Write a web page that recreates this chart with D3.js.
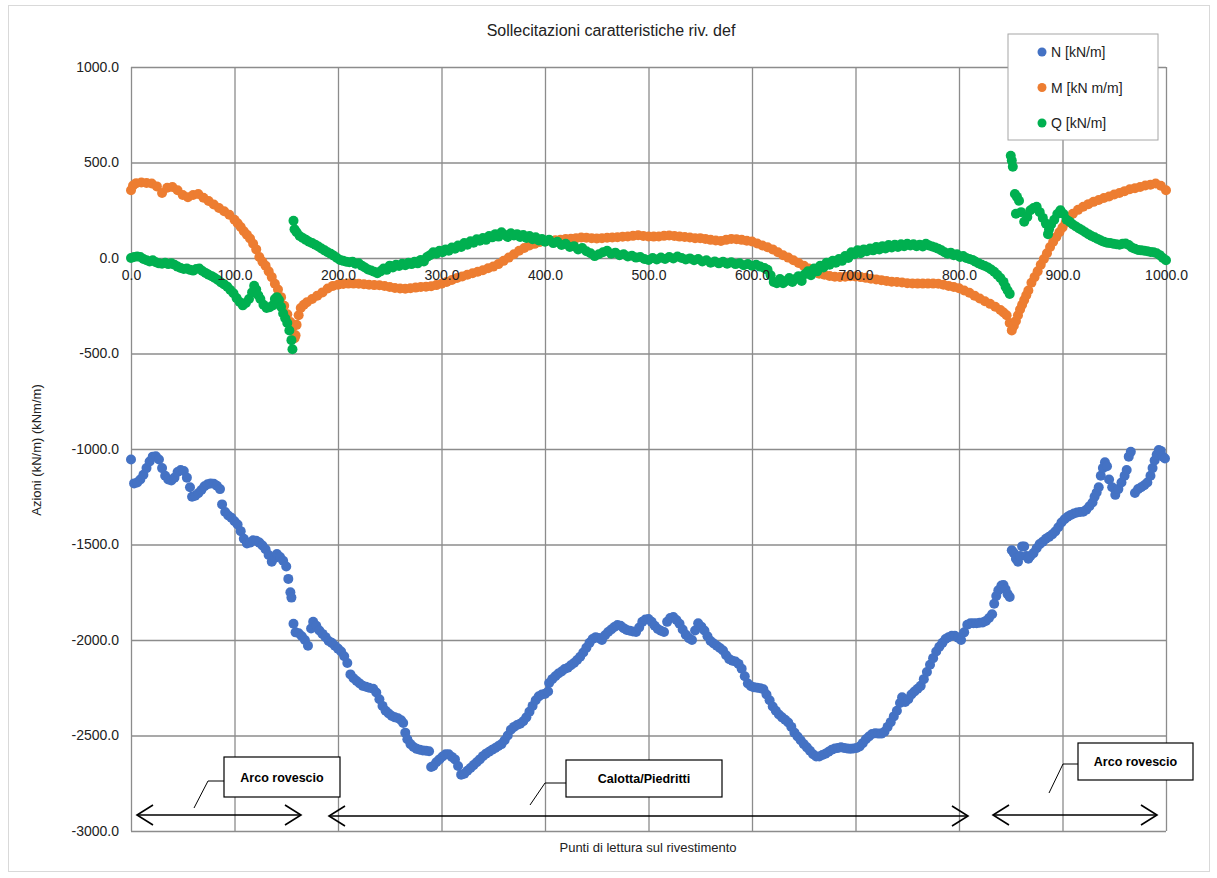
<!DOCTYPE html>
<html>
<head>
<meta charset="utf-8">
<script src="https://cdn.jsdelivr.net/npm/d3@7"></script>
<style>
  body { margin: 0; background: #fff; }
  svg { font-family: "Liberation Sans", Arial, sans-serif; }
</style>
</head>
<body>
<div id="chart"></div>
<script>
// tick values
const xTicks = [0, 100, 200, 300, 400, 500, 600, 700, 800, 900, 1000];
const yTicks = [-3000, -2500, -2000, -1500, -1000, -500, 0, 500, 1000];

const seriesNames = ["N [kN/m]", "M [kN m/m]", "Q [kN/m]"];
const seriesColors = ["#4472C4", "#ED7D31", "#00B050"];

// N [kN/m]  -> [punto, valore]
const nPoints = [[0,-1055],[3,-1180],[6,-1175],[9,-1160],[12,-1135],[15,-1100],[18,-1065],[21,-1040],[24,-1038],[27,-1055],[30,-1100],[33,-1140],[36,-1160],[39,-1165],[42,-1150],[45,-1120],[48,-1110],[51,-1115],[54,-1150],[57,-1200],[59,-1250],[62,-1245],[65,-1232],[68,-1215],[71,-1195],[74,-1185],[77,-1180],[80,-1182],[83,-1192],[86,-1210],[88,-1290],[91,-1330],[94,-1348],[97,-1360],[100,-1378],[103,-1395],[106,-1430],[109,-1470],[112,-1495],[115,-1490],[118,-1478],[121,-1480],[124,-1490],[127,-1505],[130,-1525],[133,-1555],[136,-1590],[139,-1570],[141,-1550],[144,-1565],[147,-1585],[150,-1615],[152,-1680],[154,-1750],[155,-1778],[157,-1915],[159,-1960],[162,-1965],[165,-1980],[168,-2000],[171,-2030],[174,-1940],[176,-1905],[179,-1925],[182,-1950],[185,-1968],[188,-1985],[191,-2005],[194,-2015],[197,-2030],[200,-2045],[203,-2060],[206,-2085],[209,-2120],[212,-2180],[215,-2200],[218,-2215],[221,-2228],[224,-2240],[227,-2245],[230,-2250],[234,-2255],
[237,-2275],[240,-2310],[243,-2345],[246,-2370],[249,-2385],[252,-2398],[255,-2405],[258,-2410],[261,-2420],[263,-2435],[265,-2485],[267,-2520],[270,-2545],[273,-2560],[276,-2570],[279,-2575],[282,-2578],[285,-2580],[288,-2582],[290,-2665],[292,-2660],[295,-2640],[298,-2625],[301,-2610],[304,-2598],[307,-2598],[310,-2612],[313,-2625],[316,-2660],[319,-2705],[322,-2700],[325,-2685],[328,-2670],[331,-2655],[334,-2640],[337,-2625],[340,-2608],[343,-2595],[346,-2585],[349,-2575],[352,-2565],[355,-2555],[358,-2545],[361,-2525],[364,-2500],[367,-2470],[370,-2455],[373,-2445],[376,-2438],[379,-2425],[382,-2405],[385,-2375],[388,-2345],[391,-2315],[394,-2295],[397,-2285],[400,-2282],[403,-2270],[404,-2225],[407,-2205],[410,-2190],[413,-2175],[416,-2165],[419,-2152],[422,-2145],[425,-2132],[428,-2120],[431,-2105],[434,-2088],[437,-2065],[440,-2040],[443,-2015],[446,-1995],[449,-1985],[452,-1990],[455,-2000],[458,-1975],[461,-1958],[464,-1945],[467,-1932],[470,-1922],[473,-1925],[476,-1938],[479,-1948],[482,-1952],[485,-1955],[488,-1958],[491,-1935],[494,-1905],[497,-1893],[500,-1890],
[503,-1905],[506,-1925],[509,-1942],[512,-1952],[515,-1958],[518,-1905],[521,-1885],[524,-1880],[527,-1895],[530,-1915],[533,-1945],[536,-1972],[539,-1990],[542,-2000],[545,-1950],[548,-1912],[551,-1930],[554,-1950],[557,-1980],[560,-2005],[563,-2018],[566,-2030],[569,-2042],[572,-2055],[575,-2080],[578,-2100],[581,-2108],[584,-2113],[587,-2125],[590,-2150],[593,-2190],[596,-2228],[599,-2242],[602,-2248],[605,-2250],[608,-2252],[611,-2258],[614,-2285],[617,-2315],[620,-2348],[623,-2370],[626,-2390],[629,-2405],[632,-2418],[635,-2432],[638,-2455],[641,-2485],[644,-2505],[647,-2525],[650,-2545],[653,-2562],[656,-2580],[659,-2598],[662,-2610],[665,-2610],[668,-2602],[671,-2595],[674,-2585],[677,-2575],[680,-2568],[683,-2565],[686,-2562],[689,-2565],[692,-2568],[695,-2570],[698,-2568],[701,-2565],[704,-2558],[707,-2540],[710,-2520],[713,-2505],[716,-2492],[719,-2488],[722,-2490],[725,-2490],[728,-2480],[731,-2455],[734,-2430],[737,-2400],[740,-2370],[743,-2330],[745,-2300],[748,-2325],[751,-2310],[754,-2285],
[757,-2270],[760,-2255],[763,-2240],[766,-2205],[769,-2168],[772,-2130],[775,-2095],[778,-2060],[781,-2035],[784,-2015],[787,-1995],[790,-1985],[793,-1978],[796,-1978],[799,-1988],[802,-2000],[805,-1960],[808,-1920],[811,-1912],[814,-1912],[817,-1912],[820,-1910],[823,-1908],[826,-1900],[829,-1885],[832,-1865],[834,-1810],[836,-1770],[838,-1740],[841,-1715],[843,-1712],[845,-1735],[847,-1760],[849,-1775],[851,-1530],[853,-1545],[855,-1575],[857,-1590],[859,-1560],[861,-1510],[863,-1510],[865,-1560],[867,-1575],[869,-1560],[872,-1545],[875,-1520],[878,-1498],[881,-1485],[884,-1470],[887,-1460],[890,-1448],[893,-1432],[896,-1410],[899,-1385],[902,-1368],[905,-1355],[908,-1345],[911,-1338],[914,-1332],[917,-1330],[920,-1328],[923,-1318],[926,-1300],[929,-1280],[931,-1250],[933,-1228],[935,-1200],[937,-1140],[939,-1100],[941,-1070],[943,-1090],[945,-1160],[948,-1200],[951,-1240],[954,-1210],[957,-1175],[960,-1140],[962,-1110],[964,-1040],[966,-1015],[970,-1230],[973,-1210],[976,-1200],[979,-1190],[982,-1175],[985,-1140],[987,-1100],[989,-1060],[991,-1030],[993,-1005],[995,-1010],[997,-1040],[999,-1050]];

// M [kN m/m]
const mPoints = [[0,355],[2,380],[5,392],[10,395],[15,393],[20,390],[25,375],[30,340],[35,368],[40,372],[45,355],[50,330],[55,318],[60,330],[65,335],[70,315],[75,298],[80,280],[85,262],[90,245],[95,226],[100,200],[103,182],[106,162],[109,140],[112,122],[115,102],[118,75],[121,45],[124,5],[127,-20],[130,-40],[133,-70],[136,-100],[139,-135],[142,-165],[145,-205],[148,-250],[151,-295],[154,-335],[156,-365],[158,-420],[159,-405],[160,-350],[162,-300],[164,-262],[167,-245],[170,-232],[175,-215],[180,-197],[185,-180],[190,-160],[195,-146],[200,-140],[205,-136],[210,-134],[215,-134],[220,-135],[225,-137],[230,-140],[235,-142],[240,-143],[245,-147],[250,-152],[255,-157],[260,-160],[265,-161],[270,-158],[275,-155],[280,-152],[285,-150],[290,-148],[295,-142],[300,-135],[305,-125],[310,-115],[315,-105],[320,-97],[325,-88],[330,-80],[335,-72],[340,-64],[345,-54],[350,-45],[355,-32],[360,-15],[365,2],[370,20],[375,38],[380,52],[385,65],[390,74],[395,84],[400,88],[405,90],[410,93],[415,96],[420,99],[425,101],[430,104],[435,107],[440,106],[445,104],[450,102],[455,104],[460,106],[465,107],[470,109],[475,111],[480,113],[485,116],[490,119],[495,115],[500,113],[505,112],[510,113],[515,116],[520,118],[525,115],[530,112],[535,110],[540,107],[545,104],[550,104],[555,100],[560,95],[565,92],[570,89],[575,95],[580,100],[585,98],[590,95],[595,90],[600,86],[605,76],[610,65],[615,56],[620,45],[625,30],[630,14],[635,2],[640,-12],[645,-26],[650,-40],[655,-55],[660,-70],[665,-82],[670,-88],[675,-94],[680,-98],[685,-99],[690,-98],[695,-96],[700,-97],[705,-100],[710,-104],[715,-108],[720,-112],[725,-116],[730,-120],[735,-124],[740,-126],[745,-128],[750,-132],[755,-133],[760,-134],[765,-134],[770,-134],[775,-134],[780,-135],[785,-140],[790,-146],[795,-152],[800,-158],[805,-170],[810,-182],[815,-197],[820,-212],[825,-226],[830,-240],[835,-255],[840,-272],[843,-285],[846,-300],[849,-340],[851,-379],[853,-355],[855,-330],[857,-300],[859,-270],[861,-245],[863,-220],[865,-195],[867,-170],[870,-130],[873,-100],[876,-70],[879,-35],[882,-5],[885,25],[888,58],[891,85],[894,110],[897,135],[900,160],[903,185],[906,210],[910,232],[915,252],[920,268],[925,282],[930,294],[935,304],[940,314],[945,322],[950,332],[955,340],[960,350],[965,360],[970,365],[975,372],[980,380],[985,384],[990,390],[995,378],[1000,355]];

// Q [kN/m]
const qPoints = [[0,0],[3,5],[6,8],[9,5],[12,-5],[15,-12],[18,-18],[21,-12],[24,-22],[27,-28],[30,-30],[33,-25],[36,-32],[39,-28],[42,-35],[45,-45],[48,-52],[51,-58],[54,-55],[57,-62],[60,-66],[63,-58],[66,-55],[69,-68],[72,-78],[75,-88],[78,-95],[81,-105],[84,-115],[87,-128],[90,-138],[93,-150],[96,-168],[99,-185],[102,-210],[105,-230],[108,-248],[111,-235],[114,-215],[117,-180],[119,-145],[121,-165],[123,-195],[125,-215],[128,-245],[131,-262],[134,-258],[137,-248],[139,-215],[141,-205],[143,-220],[145,-255],[147,-290],[149,-315],[151,-340],[153,-380],[155,-430],[156,-478],
[157,195],[158,150],[160,135],[163,115],[166,105],[169,95],[172,85],[175,78],[178,70],[181,60],[184,50],[187,40],[190,30],[193,22],[196,12],[199,0],[202,-10],[205,-15],[208,-20],[211,-22],[214,-20],[217,-30],[220,-28],[223,-40],[226,-50],[229,-60],[232,-65],[235,-72],[238,-80],[241,-70],[244,-55],[247,-62],[250,-40],[253,-50],[256,-35],[259,-42],[262,-30],[265,-38],[268,-25],[271,-32],[274,-20],[277,-28],[280,-10],[283,-18],[286,5],[289,15],[292,30],[295,22],[298,38],[301,30],[304,45],[307,38],[310,55],[313,48],[316,65],[319,58],[322,78],[325,70],[328,88],[331,80],[334,98],[337,90],[340,105],[343,95],[346,115],[349,108],[352,125],[355,112],[358,135],[361,120],[364,110],[367,130],[370,118],[373,125],[376,110],[379,120],[382,105],[385,115],[388,98],[391,108],[394,92],[397,100],[400,85],[404,95],[408,78],[412,85],[416,68],[420,75],[424,58],[428,62],[432,45],[436,52],[440,35],[444,25],[448,10],[452,20],[456,30],[460,38],[464,22],[468,28],[472,15],[476,20],[480,8],[484,12],[488,2],[492,5],[496,-5],[500,-10],
[504,0],[508,-8],[512,2],[516,-5],[520,5],[524,-2],[528,8],[532,0],[536,-8],[540,-2],[544,-12],[548,-5],[552,-18],[556,-12],[560,-25],[564,-18],[568,-28],[572,-20],[576,-30],[580,-22],[584,-32],[588,-28],[592,-38],[596,-32],[600,-40],[604,-35],[608,-45],[612,-52],[615,-62],[618,-90],[621,-125],[624,-132],[627,-110],[630,-132],[633,-120],[636,-105],[639,-125],[642,-110],[645,-95],[648,-120],[651,-85],[654,-70],[657,-90],[660,-55],[663,-70],[666,-40],[669,-50],[672,-25],[675,-35],[678,-15],[681,-25],[684,-5],[687,-15],[690,10],[693,0],[696,30],[699,20],[702,40],[705,25],[708,45],[711,35],[714,50],[717,40],[720,58],[723,45],[726,62],[729,50],[732,68],[735,55],[738,70],[741,58],[744,72],[747,62],[750,75],
[753,65],[756,72],[759,62],[762,70],[765,60],[768,75],[771,65],[774,60],[777,55],[780,48],[783,40],[786,30],[789,22],[792,28],[795,15],[798,20],[801,5],[804,10],[807,0],[810,-5],[813,-10],[816,-20],[819,-28],[822,-35],[825,-42],[828,-50],[831,-60],[834,-72],[837,-88],[840,-105],[843,-125],[845,-150],[847,-170],[849,-188],
[850,535],[851,510],[852,478],[854,335],[856,320],[858,300],[855,232],[860,240],[863,190],[866,215],[869,250],[872,262],[875,268],[878,240],[881,210],[884,180],[887,150],[886,125],[889,175],[892,200],[895,230],[898,250],[901,230],[904,200],[907,190],[910,175],[913,165],[916,155],[919,145],[922,135],[925,125],[928,115],[931,108],[934,100],[937,92],[940,85],[943,80],[946,78],[949,75],[952,72],[955,70],[958,74],[961,76],[964,68],[967,55],[970,48],[973,42],[976,40],[979,38],[982,35],[985,32],[988,30],[991,25],[994,15],[997,0],[1000,-12]];

const allSeries = [nPoints, mPoints, qPoints];

const W = 1217, H = 878;
const plot = { left: 131, right: 1166, top: 67, bottom: 831 };

const svg = d3.select("#chart").append("svg")
  .attr("width", W).attr("height", H);

svg.append("rect").attr("x", 0).attr("y", 0).attr("width", W).attr("height", H).attr("fill", "#fff");
svg.append("rect").attr("x", 8.5).attr("y", 5.5).attr("width", 1201).attr("height", 866)
  .attr("fill", "none").attr("stroke", "#d9d9d9");

const x = d3.scaleLinear().domain([0, 1000]).range([plot.left, plot.right]);
const y = d3.scaleLinear().domain([-3000, 1000]).range([plot.bottom, plot.top]);
const fmt = v => v.toFixed(1);   // trattino normale, come in Excel

// griglia orizzontale + etichette asse y
const gy = svg.append("g")
  .attr("transform", `translate(${plot.left},0)`)
  .call(d3.axisLeft(y).tickValues(yTicks).tickSize(-(plot.right - plot.left)).tickPadding(12).tickFormat(fmt));
gy.select(".domain").remove();
gy.selectAll("line").attr("stroke", "#8c8c8c").attr("stroke-width", 1.3);
gy.selectAll("text").attr("fill", "#222").style("font-size", "14px");

// griglia verticale
const gx = svg.append("g")
  .attr("transform", `translate(0,${plot.bottom})`)
  .call(d3.axisBottom(x).tickValues(xTicks).tickSize(-(plot.bottom - plot.top)).tickFormat(""));
gx.select(".domain").remove();
gx.selectAll("line").attr("stroke", "#8c8c8c").attr("stroke-width", 1.3);

// punti
allSeries.forEach((pts, i) => {
  svg.append("g").selectAll("circle")
    .data(pts)
    .enter().append("circle")
    .attr("cx", d => x(d[0]))
    .attr("cy", d => y(d[1]))
    .attr("r", 5)
    .attr("fill", seriesColors[i]);
});

// etichette asse x sulla linea dello zero (sopra i punti)
const gx0 = svg.append("g")
  .attr("transform", `translate(0,${y(0)})`)
  .call(d3.axisBottom(x).tickValues(xTicks).tickSize(0).tickPadding(12).tickFormat(fmt));
gx0.select(".domain").remove();
gx0.selectAll("text").attr("fill", "#222").style("font-size", "14px");

// titoli
svg.append("text").attr("x", 611).attr("y", 36).attr("text-anchor", "middle")
  .style("font-size", "16px").attr("fill", "#222").text("Sollecitazioni caratteristiche riv. def");
svg.append("text").attr("transform", "translate(41,450) rotate(-90)").attr("text-anchor", "middle")
  .style("font-size", "13px").attr("fill", "#222").text("Azioni (kN/m) (kNm/m)");
svg.append("text").attr("x", 648).attr("y", 852).attr("text-anchor", "middle")
  .style("font-size", "13px").attr("fill", "#222").text("Punti di lettura sul rivestimento");

// legenda
const lg = svg.append("g");
lg.append("rect").attr("x", 1008).attr("y", 34).attr("width", 150).attr("height", 106)
  .attr("fill", "#fff").attr("stroke", "#a6a6a6");
seriesNames.forEach((name, i) => {
  const ly = 52 + i * 35.5;
  lg.append("circle").attr("cx", 1042).attr("cy", ly).attr("r", 4.5).attr("fill", seriesColors[i]);
  lg.append("text").attr("x", 1051).attr("y", ly + 5).style("font-size", "14px").attr("fill", "#222").text(name);
});

// frecce e riquadri
function arrow(x1, x2, yy) {
  const g = svg.append("g").attr("stroke", "#000").attr("stroke-width", 1.6).attr("fill", "none");
  g.append("line").attr("x1", x1).attr("y1", yy).attr("x2", x2).attr("y2", yy);
  g.append("polyline").attr("points", `${x1 + 16},${yy - 10} ${x1},${yy} ${x1 + 16},${yy + 10}`);
  g.append("polyline").attr("points", `${x2 - 16},${yy - 10} ${x2},${yy} ${x2 - 16},${yy + 10}`);
}
function label(bx, by, bw, bh, txt, leader) {
  svg.append("polyline").attr("points", leader.map(p => p.join(",")).join(" "))
    .attr("fill", "none").attr("stroke", "#000").attr("stroke-width", 1);
  svg.append("rect").attr("x", bx).attr("y", by).attr("width", bw).attr("height", bh)
    .attr("fill", "#fff").attr("stroke", "#000").attr("stroke-width", 1.2);
  svg.append("text").attr("x", bx + bw / 2).attr("y", by + bh / 2 + 4.5).attr("text-anchor", "middle")
    .style("font-size", "12.5px").style("font-weight", "bold").attr("fill", "#000").text(txt);
}
arrow(137, 301, 815);
arrow(329, 968, 816);
arrow(993, 1157, 815);
label(224, 757, 116, 40, "Arco rovescio", [[224, 781], [208, 781], [194, 808]]);
label(566, 760, 156, 37, "Calotta/Piedritti", [[566, 783], [545, 783], [530, 805]]);
label(1078, 743, 115, 37, "Arco rovescio", [[1078, 764], [1063, 764], [1049, 793]]);
</script>
</body>
</html>
